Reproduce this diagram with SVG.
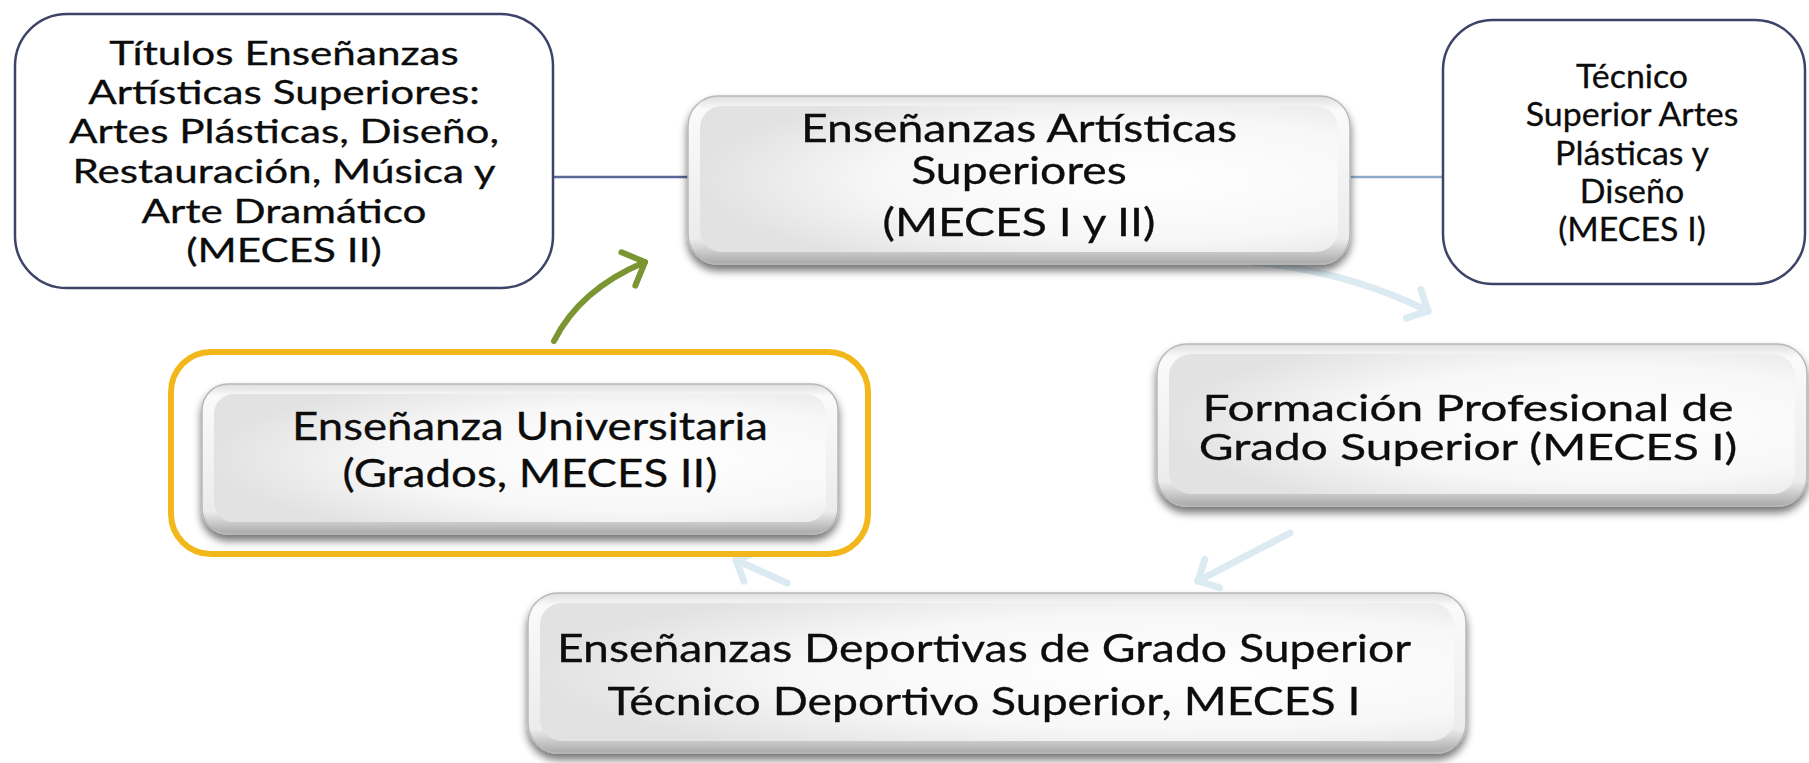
<svg xmlns="http://www.w3.org/2000/svg" width="1809" height="763" viewBox="0 0 1809 763">
<style>
.t{font-family:Lato,"Open Sans","Liberation Sans",sans-serif;fill:#0c0c0c;stroke:#0c0c0c;stroke-width:0.3;text-anchor:middle}
.s1{font-size:32px}
.s2{font-size:38px}
.s3{font-size:36px}
.plain{fill:#fff;stroke:#3d4468;stroke-width:2.5}
.bevel{fill:url(#bevelFill);stroke:#b8b8b8;stroke-width:1.5}
.inner{fill:url(#innerFill)}
.blue{fill:none;stroke:#dcebf2;stroke-width:7;stroke-linecap:round}
</style>
<defs>
<linearGradient id="bevelFill" x1="0" y1="0" x2="0" y2="1">
<stop offset="0" stop-color="#dedede"/>
<stop offset="0.08" stop-color="#fafafa"/>
<stop offset="0.85" stop-color="#ececec"/>
<stop offset="1" stop-color="#a9a9a9"/>
</linearGradient>
<radialGradient id="innerFill" cx="0.7" cy="0.5" r="0.7">
<stop offset="0" stop-color="#ffffff"/>
<stop offset="0.6" stop-color="#f7f7f7"/>
<stop offset="1" stop-color="#e2e2e2"/>
</radialGradient>
<filter id="shadow" x="-10%" y="-10%" width="120%" height="130%">
<feGaussianBlur in="SourceAlpha" stdDeviation="4"/>
<feOffset dx="0" dy="6" result="b"/>
<feComponentTransfer><feFuncA type="linear" slope="0.55"/></feComponentTransfer>
<feMerge><feMergeNode/><feMergeNode in="SourceGraphic"/></feMerge>
</filter>
<marker id="chevBlue" markerUnits="userSpaceOnUse" markerWidth="40" markerHeight="40" refX="20" refY="20" orient="auto" viewBox="0 0 40 40">
<path d="M4,4 L20,20 L4,36" fill="none" stroke="#dcebf2" stroke-width="7" stroke-linecap="round" stroke-linejoin="round"/>
</marker>
<marker id="chevGreen" markerUnits="userSpaceOnUse" markerWidth="44" markerHeight="44" refX="22" refY="22" orient="auto" viewBox="0 0 44 44">
<path d="M4,4 L22,22 L4,40" fill="none" stroke="#7a9531" stroke-width="6" stroke-linecap="round" stroke-linejoin="round"/>
</marker>
</defs>

<g id="connectors">
<line x1="553" y1="177" x2="688" y2="177" stroke="#5b6597" stroke-width="2.5"/>
<line x1="1350" y1="177" x2="1443" y2="177" stroke="#8eaacb" stroke-width="2.5"/>
<path d="M554,341 C572,305 602,280 645,262" fill="none" stroke="#7a9531" stroke-width="6" stroke-linecap="round" marker-end="url(#chevGreen)"/>
<path class="blue" d="M1253,262 Q1350,272 1428,311" marker-end="url(#chevBlue)"/>
<path class="blue" d="M1290,533 L1198,581" marker-end="url(#chevBlue)"/>
<path class="blue" d="M787,583 L736,560" marker-end="url(#chevBlue)"/>
</g>

<g id="node-titulos">
<rect class="plain" x="15" y="14" width="538" height="274" rx="52"/>
<g transform="translate(284 0) scale(1.32 1)">
<text class="t s1" x="0" y="65">Títulos Enseñanzas</text>
<text class="t s1" x="0" y="104">Artísticas Superiores:</text>
<text class="t s1" x="0" y="143">Artes Plásticas, Diseño,</text>
<text class="t s1" x="0" y="183">Restauración, Música y</text>
<text class="t s1" x="0" y="223">Arte Dramático</text>
<text class="t s1" x="0" y="262">(MECES II)</text>
</g>
</g>

<g id="node-artisticas" filter="url(#shadow)">
<rect class="bevel" x="688" y="96" width="662" height="168" rx="30"/>
<rect class="inner" x="700" y="106" width="638" height="146" rx="22"/>
<g transform="translate(1019 0) scale(1.22 1)">
<text class="t s2" x="0" y="142">Enseñanzas Artísticas</text>
<text class="t s2" x="0" y="184">Superiores</text>
<text class="t s2" x="0" y="236">(MECES I y II)</text>
</g>
</g>

<g id="node-tecnico">
<rect class="plain" x="1443" y="20" width="362" height="264" rx="50"/>
<g transform="translate(1632 0) scale(1.06 1)">
<text class="t s1" x="0" y="88">Técnico</text>
<text class="t s1" x="0" y="126">Superior Artes</text>
<text class="t s1" x="0" y="165">Plásticas  y</text>
<text class="t s1" x="0" y="203">Diseño</text>
<text class="t s1" x="0" y="241">(MECES I)</text>
</g>
</g>

<g id="node-universitaria">
<rect x="171" y="352" width="697" height="202" rx="40" fill="#fff" stroke="#f2b71b" stroke-width="6"/>
<g filter="url(#shadow)">
<rect class="bevel" x="202" y="384" width="636" height="150" rx="26"/>
<rect class="inner" x="214" y="394" width="612" height="128" rx="20"/>
</g>
<g transform="translate(530 0) scale(1.2 1)">
<text class="t s2" x="0" y="440">Enseñanza Universitaria</text>
<text class="t s2" x="0" y="487">(Grados, MECES II)</text>
</g>
</g>

<g id="node-formacion" filter="url(#shadow)">
<rect class="bevel" x="1157" y="344" width="650" height="162" rx="30"/>
<rect class="inner" x="1169" y="354" width="626" height="140" rx="22"/>
<g transform="translate(1468 0) scale(1.33 1)">
<text class="t s3" x="0" y="421">Formación Profesional de</text>
<text class="t s3" x="0" y="460">Grado Superior (MECES I)</text>
</g>
</g>

<g id="node-deportivas" filter="url(#shadow)">
<rect class="bevel" x="528" y="593" width="938" height="160" rx="30"/>
<rect class="inner" x="540" y="603" width="914" height="138" rx="22"/>
<g transform="translate(984 0) scale(1.22 1)">
<text class="t s2" x="0" y="662">Enseñanzas Deportivas de Grado Superior</text>
<text class="t s2" x="0" y="715">Técnico Deportivo Superior,  MECES I</text>
</g>
</g>
</svg>
